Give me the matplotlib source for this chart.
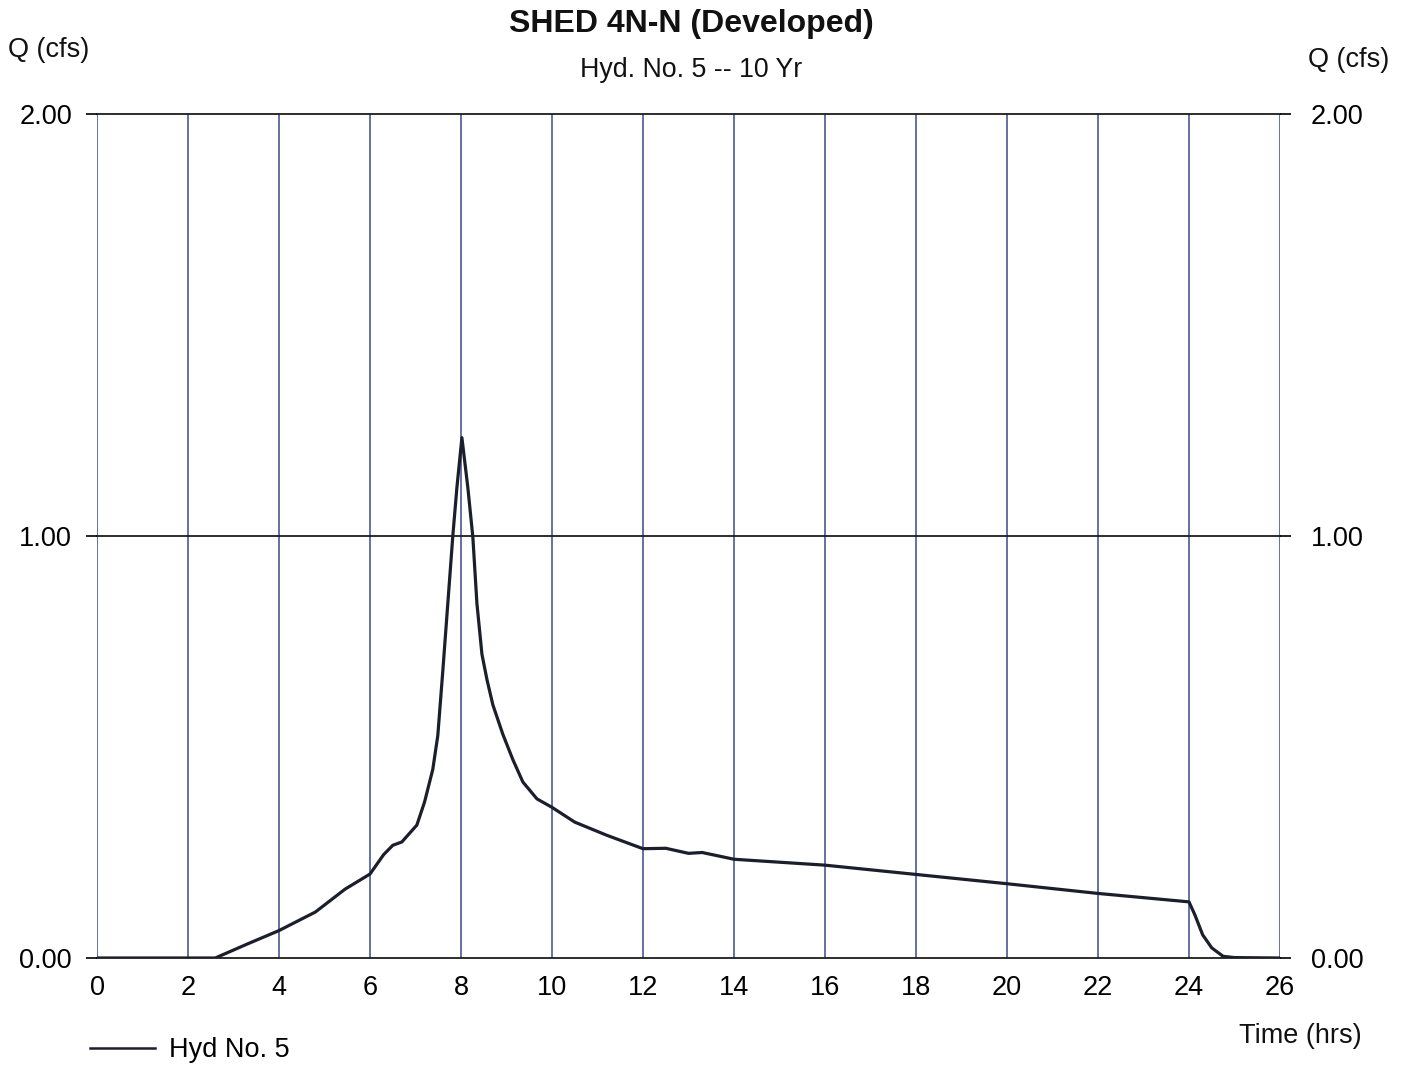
import matplotlib
matplotlib.use("Agg")
import matplotlib.pyplot as plt

plt.rcParams['font.family'] = ['Liberation Sans', 'DejaVu Sans']

# Hydrograph: time (hrs) and discharge Q (cfs)
time_hrs = [0, 2, 2.6, 3.3, 4, 4.8, 5.45, 6, 6.3, 6.5, 6.7, 7.03, 7.2, 7.38,
            7.49, 7.6, 7.71, 7.82, 7.91, 8.02, 8.15, 8.26, 8.35, 8.46, 8.57,
            8.7, 8.92, 9.14, 9.36, 9.67, 10, 10.5, 11.2, 12, 12.5, 13, 13.3,
            14, 16, 18, 20, 22, 24, 24.13, 24.3, 24.5, 24.75, 25, 26]
q_cfs = [0, 0, 0, 0.033, 0.065, 0.109, 0.163, 0.199, 0.245, 0.267, 0.275,
         0.315, 0.37, 0.447, 0.527, 0.68, 0.84, 1.0, 1.115, 1.233, 1.115,
         0.998, 0.84, 0.72, 0.66, 0.60, 0.53, 0.47, 0.417, 0.377, 0.357,
         0.322, 0.291, 0.259, 0.26, 0.248, 0.25, 0.234, 0.22, 0.198, 0.176,
         0.153, 0.133, 0.102, 0.055, 0.024, 0.004, 0.001, 0]

x_ticks = list(range(0, 27, 2))
y_ticks = [0.0, 1.0, 2.0]
y_tick_labels = ["0.00", "1.00", "2.00"]

title = "SHED 4N-N (Developed)"
subtitle = "Hyd. No. 5 -- 10 Yr"
series_name = "Hyd No. 5"

W, H = 1405, 1065
fig = plt.figure(figsize=(W / 100, H / 100), dpi=100)
ax = fig.add_axes([97 / W, 1 - 958 / H, (1280 - 97) / W, (958 - 114) / H])

ax.set_xlim(0, 26)
ax.set_ylim(0, 2)

# vertical grid every 2 hours (blue-grey), horizontal at 0 / 1 / 2 (black)
for xv in x_ticks:
    ax.axvline(xv, color='#3c4a8c', lw=1.1, zorder=1)
for yv in y_ticks:
    ax.axhline(yv, color='#1c1c1c', lw=1.3, zorder=1, clip_on=False)

ax.plot(time_hrs, q_cfs, color='#1b1e2b', lw=2.3, zorder=3,
        solid_joinstyle='round', label=series_name)

for s in ax.spines.values():
    s.set_visible(False)

ax.set_xticks(x_ticks)
ax.set_xticklabels([str(v) for v in x_ticks])
ax.set_yticks(y_ticks)
ax.set_yticklabels(y_tick_labels)
ax.tick_params(axis='x', length=0, pad=12, labelsize=19.5)
ax.tick_params(axis='y', length=8, width=1.2, pad=10, labelsize=19.5,
               direction='out')

axr = ax.twinx()
axr.set_ylim(0, 2)
axr.set_yticks(y_ticks)
axr.set_yticklabels(y_tick_labels)
axr.tick_params(axis='y', length=8, width=1.2, pad=14, labelsize=19.5,
                direction='out')
for s in axr.spines.values():
    s.set_visible(False)

fig.text(691 / W, 1 - 24 / H, title, ha='center', va='center',
         fontsize=23, fontweight='bold', color='#111111')
fig.text(691 / W, 1 - 70 / H, subtitle, ha='center', va='center',
         fontsize=19.3, color='#111111')
fig.text(8 / W, 1 - 50 / H, "Q (cfs)", ha='left', va='center',
         fontsize=19.5, color='#111111')
fig.text(1308 / W, 1 - 60 / H, "Q (cfs)", ha='left', va='center',
         fontsize=19.5, color='#111111')
fig.text(1362 / W, 1 - 1036 / H, "Time (hrs)", ha='right', va='center',
         fontsize=19.5, color='#111111')

fig.legend(loc='center left', bbox_to_anchor=(90 / W, 1 - 1050 / H),
           frameon=False, fontsize=19.5, handlelength=2.4, handletextpad=0.5,
           borderpad=0, borderaxespad=0)
for line in fig.legends[0].get_lines():
    line.set_linewidth(1.8)

fig.savefig("out.png", dpi=100, facecolor='white')
